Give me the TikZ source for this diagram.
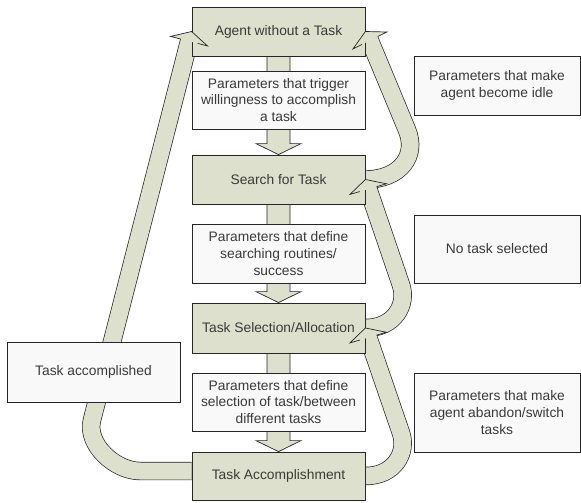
\documentclass[tikz,border=0pt]{standalone}
\usepackage{fontspec}
\setmainfont{Liberation Sans}
\usetikzlibrary{calc}

\definecolor{stagegreen}{RGB}{221,224,204}
\definecolor{notegray}{RGB}{249,249,249}
\definecolor{lineclr}{RGB}{38,38,38}
\definecolor{textgray}{RGB}{58,58,58}

% arrow head of a curved block arrow: #1 = tip, #2 = centre of the head's base
\newcommand{\drawblockhead}[2]{%
  \fill[stagegreen] ($(#2)!9.6pt!90:(#1)$) -- ($(#2)!19pt!90:(#1)$) -- (#1)
     -- ($(#2)!19pt!-90:(#1)$) -- ($(#2)!9.6pt!-90:(#1)$) -- cycle;
  \draw[lineclr, line width=0.7pt] ($(#2)!8.85pt!90:(#1)$) -- ($(#2)!19pt!90:(#1)$) -- (#1)
     -- ($(#2)!19pt!-90:(#1)$) -- ($(#2)!8.85pt!-90:(#1)$);
}

% straight block arrow from the bottom of one stage to the top of the next
\newcommand{\drawstagearrow}[2]{%
  \draw[lineclr, fill=stagegreen, line width=0.7pt]
    ($(#1.south)+(-11.5,0)$) -- ($(#2.north)+(-11.5,-11)$) -- ($(#2.north)+(-22.5,-11)$)
    -- (#2.north) -- ($(#2.north)+(22.5,-11)$) -- ($(#2.north)+(11.5,-11)$)
    -- ($(#1.south)+(11.5,0)$) -- cycle;
}

\begin{document}
\begin{tikzpicture}[x=1pt,y=-1pt,
  txtfont/.style={font=\fontsize{13.8}{16.7}\selectfont, text=textgray},
  stage/.style={txtfont, draw=lineclr, fill=stagegreen, line width=0.8pt,
    minimum width=173pt, inner sep=0pt, align=center},
  note/.style={txtfont, draw=lineclr, fill=notegray, line width=0.8pt,
    inner sep=0pt, align=center},
  band/.style={draw=lineclr, line width=0.7pt, double=stagegreen, double distance=17pt},
]
\fill[white] (0,0) rectangle (581,503);
\useasboundingbox (0,0) rectangle (581,503);

% stage positions (not yet drawn)
\path
  (278.5,31.5)  coordinate (agentc)
  (278.5,179.5) coordinate (searchc)
  (278.5,328)   coordinate (selectc)
  (278.5,476)   coordinate (accompc);

% invisible stage outlines so that the arrows can refer to them
\node[stage, draw=none, fill=none, minimum height=49pt] (agent)  at (agentc) {};
\node[stage, draw=none, fill=none, minimum height=49pt] (search) at (searchc) {};
\node[stage, draw=none, fill=none, minimum height=50pt] (select) at (selectc) {};
\node[stage, draw=none, fill=none, minimum height=48pt] (accomp) at (accompc) {};

% ---- curved bands (drawn behind the boxes) ----
% task accomplished: back to the idle agent
\coordinate (lstart) at ($(accomp.west)+(0,-5)$);
\coordinate (lbase)  at ($(agent.west)+(-2.5,9.7)$);
\draw[band] (lstart) -- (140,471) .. controls (115,471) and (85.7,444.2) .. (92,420)
  -- ($(lbase)!1pt!(agent.west)$);

% search -> agent
\coordinate (r1base) at ($(agent.east)+(4.5,9)$);
\draw[band] (search.east) .. controls (400,179.5) and (417.8,155.8) .. (407,130)
  -- ($(r1base)!1pt!(agent.east)$);

% selection -> search
\coordinate (r2base) at ($(search.east)+(2.8,9.6)$);
\draw[band] (select.east) .. controls (395,328) and (407.5,304) .. (401,285)
  -- ($(r2base)!1pt!(search.east)$);

% accomplishment -> selection
\coordinate (r3base) at ($(select.east)+(2.8,9.6)$);
\draw[band] (accomp.east) .. controls (395,476) and (407.5,452) .. (401,433)
  -- ($(r3base)!1pt!(select.east)$);

% ---- straight arrows down the main column ----
\drawstagearrow{agent}{search}
\drawstagearrow{search}{select}
\drawstagearrow{select}{accomp}

% ---- stages ----
\node[stage, minimum height=49pt] at (agentc)  {Agent without a Task};
\node[stage, minimum height=49pt] at (searchc) {Search for Task};
\node[stage, minimum height=50pt] at (selectc) {Task Selection/Allocation};
\node[stage, minimum height=48pt] at (accompc) {Task Accomplishment};

% ---- parameter boxes in the column ----
\node[note, minimum width=173pt, minimum height=58pt] (p1) at (278.5,100)
  {Parameters that trigger\\willingness to accomplish\\a task};
\node[note, minimum width=173pt, minimum height=59pt] (p2) at (278.5,253.5)
  {Parameters that define\\searching routines/\\success};
\node[note, minimum width=173pt, minimum height=58pt] (p3) at (278.5,402)
  {Parameters that define\\selection of task/between\\different tasks};

% ---- side boxes ----
\node[note, minimum width=173pt, minimum height=60pt] (done) at (93.5,372)
  {Task accomplished};
\node[note, minimum width=166pt, minimum height=59pt] (idle) at (497,85.5)
  {Parameters that make\\agent become idle};
\node[note, minimum width=166pt, minimum height=68pt] (notask) at (497,249)
  {No task selected};
\node[note, minimum width=166pt, minimum height=79pt] (abandon) at (497,412.5)
  {Parameters that make\\agent abandon/switch\\tasks};

% ---- heads of the curved arrows (on top of the boxes) ----
\drawblockhead{agent.west}{lbase}
\drawblockhead{agent.east}{r1base}
\drawblockhead{search.east}{r2base}
\drawblockhead{select.east}{r3base}
\end{tikzpicture}
\end{document}
